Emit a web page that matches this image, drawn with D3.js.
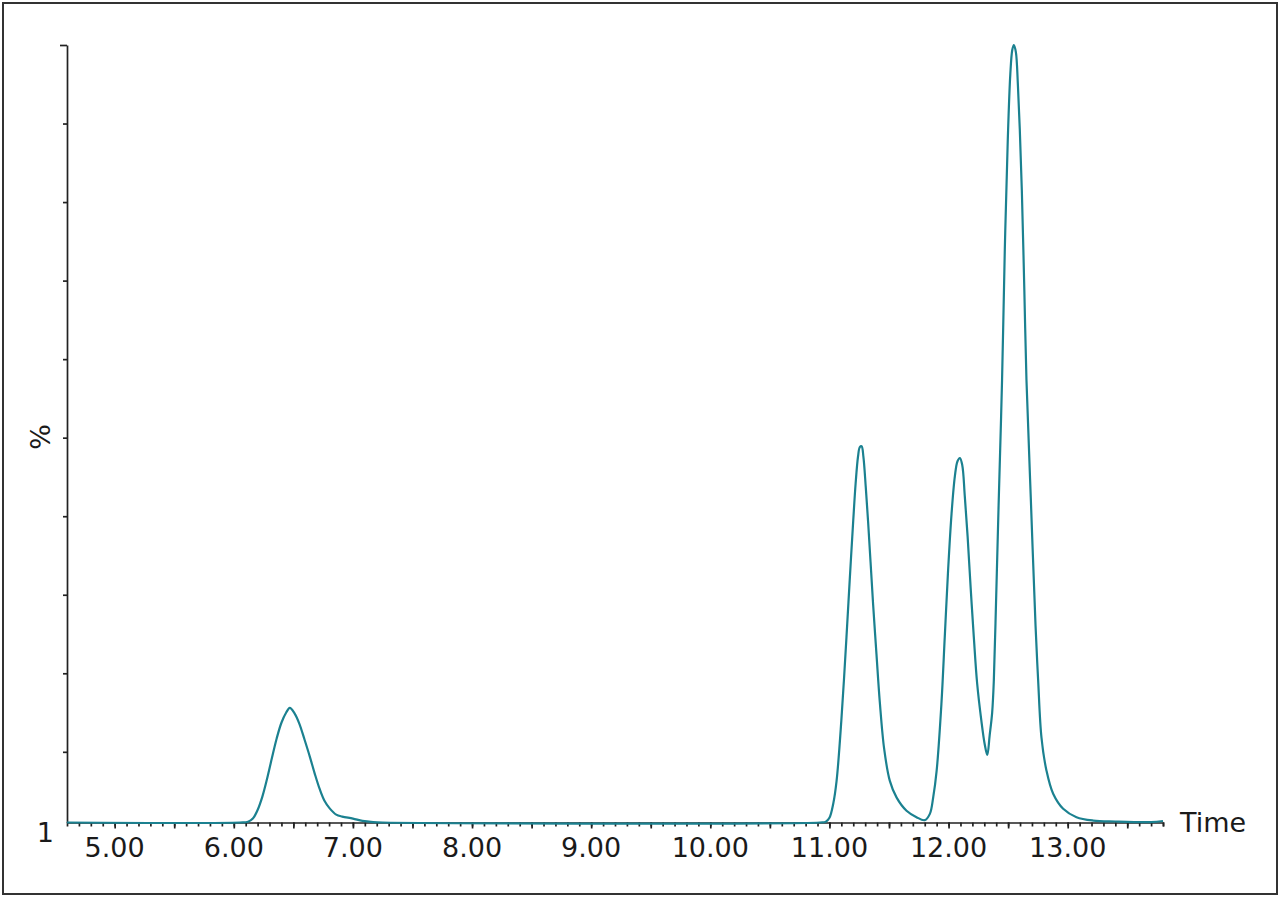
<!DOCTYPE html>
<html>
<head>
<meta charset="utf-8">
<script src="https://cdn.jsdelivr.net/npm/d3@7.9.0/dist/d3.min.js"></script>
<style>
  html, body { margin: 0; padding: 0; background: #fff; }
  svg { display: block; font-family: "DejaVu Sans", Verdana, sans-serif; }
</style>
</head>
<body>
<svg id="chart" width="1280" height="898"></svg>
<script>
// retention time (min) and relative intensity (%)
const times = [
  4.60, 6.05, 6.12, 6.16, 6.20, 6.24, 6.28, 6.32, 6.36, 6.40, 6.44, 6.47, 6.51, 6.55, 6.595,
  6.64, 6.68, 6.72, 6.76, 6.805, 6.86, 6.91, 7.00, 7.08, 7.17, 7.25, 10.92,
  10.97, 11.00, 11.032, 11.06, 11.10, 11.143, 11.17, 11.20, 11.22, 11.24, 11.255, 11.27, 11.285,
  11.305, 11.325, 11.345, 11.367, 11.395, 11.423, 11.46, 11.507, 11.563, 11.647,
  11.731, 11.80, 11.843, 11.871, 11.90, 11.94, 11.968, 11.996, 12.025, 12.053, 12.075,
  12.095, 12.115, 12.136, 12.16, 12.185, 12.212, 12.24, 12.275, 12.303, 12.325,
  12.345, 12.366, 12.38, 12.40, 12.42, 12.449, 12.472, 12.497, 12.518, 12.535, 12.548,
  12.565, 12.582, 12.598, 12.615, 12.636, 12.654, 12.69, 12.73, 12.752, 12.78, 12.822,
  12.878, 12.962, 13.074, 13.214, 13.40, 13.70, 13.80
];
const intensity = [
  1, 1, 1.1, 1.5, 2.6, 4.3, 6.6, 9.2, 11.7, 13.7, 15.0, 15.6, 14.9, 13.6, 11.5,
  9.3, 7.2, 5.3, 3.8, 2.8, 2.0, 1.75, 1.5, 1.2, 1.05, 1, 1,
  1.1, 1.6, 3.4, 6.3, 14.0, 24.6, 31.8, 39.5, 44.2, 47.6, 48.8, 48.9, 47.6,
  43.7, 39.2, 34.2, 28.7, 22.4, 16.3, 10.3, 6.3, 4.2, 2.5,
  1.68, 1.3, 2.1, 4.2, 7.6, 16.1, 24.6, 33.1, 40.3, 45.1, 47.0,
  47.4, 46.5, 42.6, 37.4, 31.0, 24.6, 18.7, 14.0, 11.0, 9.6,
  12.1, 15.0, 19.1, 29.9, 41.4, 57.3, 73.9, 87.9, 96.2, 99.4, 100,
  99.1, 94.9, 89.2, 81.5, 68.8, 57.3, 42.4, 26.1, 19.1, 11.8, 7.6,
  4.66, 2.75, 1.68, 1.25, 1.13, 1.06, 1.19
];

const xLabels = [5, 6, 7, 8, 9, 10, 11, 12, 13];
const xHalfTicks = [5, 5.5, 6, 6.5, 7, 7.5, 8, 8.5, 9, 9.5, 10, 10.5, 11, 11.5, 12, 12.5, 13, 13.5];
const yTicks = [10, 20, 30, 40, 50, 60, 70, 80, 90];
const yMaxTick = 100;
const yMinLabel = '1';

const svg = d3.select('#chart');

// outer frame
svg.append('rect')
  .attr('x', 3).attr('y', 3)
  .attr('width', 1274).attr('height', 891)
  .attr('fill', 'none')
  .attr('stroke', '#333')
  .attr('stroke-width', 2);

const x = d3.scaleLinear().domain([4.6, 13.8]).range([67, 1163]);
const y = d3.scaleLinear().domain([1, 100]).range([822.5, 45]);

// x axis: minor ticks every 0.1, longer ones at every 0.5, labels on whole minutes
const minorTicks = d3.range(47, 139).map(d => d / 10);
const gx = svg.append('g').attr('transform', `translate(0,${y(1)})`);
gx.call(d3.axisBottom(x).tickValues(minorTicks).tickSize(4).tickFormat(''));
gx.append('g').call(d3.axisBottom(x).tickValues(xHalfTicks).tickSize(6).tickFormat(''))
  .select('.domain').remove();
gx.selectAll('line').attr('stroke', '#222').attr('stroke-width', 1.7);
gx.select('.domain').attr('stroke', '#222').attr('stroke-width', 1.7);

svg.append('g').selectAll('text')
  .data(xLabels)
  .join('text')
  .attr('x', d => x(d))
  .attr('y', 857)
  .attr('text-anchor', 'middle')
  .attr('font-size', 27)
  .attr('fill', '#1a1a1a')
  .text(d3.format('.2f'));

svg.append('text')
  .attr('x', 1180).attr('y', 832)
  .attr('font-size', 27)
  .attr('fill', '#1a1a1a')
  .text('Time');

// y axis
const gy = svg.append('g').attr('transform', `translate(${x(4.6)},0)`);
gy.call(d3.axisLeft(y).tickValues(yTicks).tickSize(4).tickFormat('').tickSizeOuter(0));
gy.append('g').call(d3.axisLeft(y).tickValues([yMaxTick]).tickSize(7).tickFormat(''))
  .select('.domain').remove();
gy.selectAll('line').attr('stroke', '#222').attr('stroke-width', 1.7);
gy.select('.domain').attr('stroke', '#222').attr('stroke-width', 1.7);

svg.append('text')
  .attr('x', 54).attr('y', 842)
  .attr('text-anchor', 'end')
  .attr('font-size', 27)
  .attr('fill', '#1a1a1a')
  .text(yMinLabel);

svg.append('text')
  .attr('transform', 'translate(50,437) rotate(-90)')
  .attr('text-anchor', 'middle')
  .attr('font-size', 27)
  .attr('fill', '#1a1a1a')
  .text('%');

// chromatogram trace
const points = times.map((t, i) => [t, intensity[i]]);
const line = d3.line()
  .x(d => x(d[0]))
  .y(d => y(d[1]))
  .curve(d3.curveCatmullRom.alpha(0.5));

svg.append('path')
  .datum(points)
  .attr('d', line)
  .attr('fill', 'none')
  .attr('stroke', '#1b8190')
  .attr('stroke-width', 2.2)
  .attr('stroke-linejoin', 'round');
</script>
</body>
</html>
